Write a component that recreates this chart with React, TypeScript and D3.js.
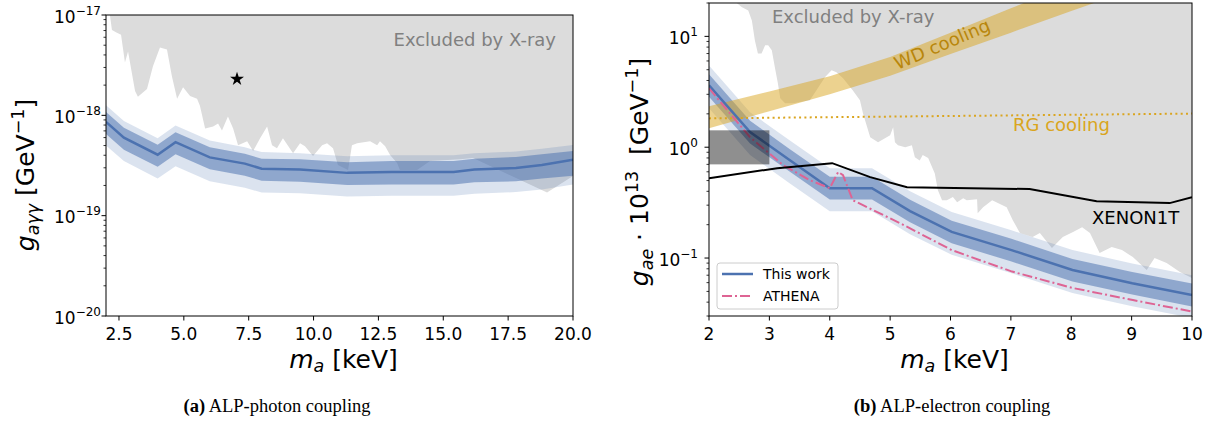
import React from "react";
import * as d3 from "d3";

// ---------------- Panel (a): ALP-photon coupling ----------------
const massA = [2, 2.69, 3.99, 4.68, 6.0, 7.35, 8.0, 9.48, 11.3, 13.0, 15.4, 16.2, 17.8, 18.8, 20];
const gLineA = [8.61e-19, 6.0e-19, 4.05e-19, 5.4e-19, 3.81e-19, 3.3e-19, 2.94e-19, 2.88e-19, 2.67e-19, 2.73e-19, 2.73e-19, 2.88e-19, 2.99e-19, 3.2e-19, 3.6e-19];
const g1HiA = [1.08e-18, 7.5e-19, 5.1e-19, 6.8e-19, 4.8e-19, 4.15e-19, 3.7e-19, 3.65e-19, 3.4e-19, 3.5e-19, 3.5e-19, 3.7e-19, 3.85e-19, 4.1e-19, 4.4e-19];
const g1LoA = [6.5e-19, 4.55e-19, 3.08e-19, 4.1e-19, 2.9e-19, 2.5e-19, 2.23e-19, 2.18e-19, 2.02e-19, 2.05e-19, 2.05e-19, 2.15e-19, 2.2e-19, 2.35e-19, 2.5e-19];
const g2HiA = [1.26e-18, 8.8e-19, 5.9e-19, 7.9e-19, 5.6e-19, 4.8e-19, 4.3e-19, 4.2e-19, 3.9e-19, 4.0e-19, 4.0e-19, 4.2e-19, 4.35e-19, 4.65e-19, 5.05e-19];
const g2LoA = [5.0e-19, 3.5e-19, 2.35e-19, 3.1e-19, 2.2e-19, 1.9e-19, 1.7e-19, 1.67e-19, 1.55e-19, 1.58e-19, 1.58e-19, 1.65e-19, 1.72e-19, 1.82e-19, 2.05e-19];

const xrayMassA = [2.15, 2.23, 2.35, 2.42, 2.58, 2.73, 2.85, 3.12, 3.23, 3.58, 3.81, 4.08, 4.35, 4.54, 4.74, 4.97, 5.24, 5.51, 5.62, 5.82, 6.13, 6.32, 6.47, 6.70, 6.90, 7.09, 7.44, 7.67, 7.94, 8.21, 8.40, 8.59, 8.82, 9.21, 9.48, 9.67, 9.98, 10.33, 10.52, 10.75, 10.94, 11.33, 11.48, 11.68, 12.18, 12.45, 12.56, 12.76, 12.95, 13.22, 13.33, 13.99, 14.49, 15.65, 16.15, 19.0, 20.0];
const xrayGA = [1.0e-17, 7.1e-18, 6.8e-18, 6.65e-18, 6.35e-18, 3.37e-18, 4.33e-18, 1.75e-18, 1.53e-18, 1.83e-18, 3.08e-18, 4.74e-18, 4.53e-18, 2.45e-18, 1.46e-18, 1.91e-18, 1.56e-18, 1.46e-18, 1.245e-18, 7.4e-19, 7.74e-19, 8.28e-19, 7.08e-19, 9.71e-19, 7.4e-19, 5.04e-19, 5.51e-19, 4.4e-19, 5.9e-19, 7.74e-19, 5.04e-19, 4.71e-19, 5.9e-19, 4.2e-19, 5.27e-19, 4.92e-19, 3.93e-19, 5.04e-19, 5.27e-19, 4.71e-19, 3.2e-19, 2.86e-19, 5.04e-19, 5.27e-19, 5.51e-19, 5.04e-19, 5.51e-19, 4.92e-19, 4.02e-19, 3.35e-19, 2.86e-19, 2.86e-19, 3.51e-19, 3.66e-19, 3.75e-19, 1.7e-19, 2.49e-19];

const starMassA = [7.05];
const starGA = [2.3e-18];
const xTicksA = [2.5, 5, 7.5, 10, 12.5, 15, 17.5, 20];
const xTickLabelsA = ["2.5", "5.0", "7.5", "10.0", "12.5", "15.0", "17.5", "20.0"];

// ---------------- Panel (b): ALP-electron coupling ----------------
const massB = [2, 2.68, 3.34, 4.0, 4.7, 5.33, 6.02, 7.01, 8.02, 9.01, 10];
const gLineB = [3.62, 1.37, 0.764, 0.427, 0.427, 0.265, 0.172, 0.118, 0.078, 0.0593, 0.0464];
const g1HiB = [4.55, 1.73, 0.96, 0.54, 0.54, 0.335, 0.217, 0.149, 0.098, 0.075, 0.059];
const g1LoB = [2.85, 1.08, 0.6, 0.337, 0.337, 0.21, 0.136, 0.093, 0.0615, 0.0468, 0.0365];
const g2HiB = [5.45, 2.07, 1.15, 0.645, 0.645, 0.4, 0.26, 0.178, 0.118, 0.0895, 0.07];
const g2LoB = [2.25, 0.85, 0.47, 0.265, 0.265, 0.164, 0.107, 0.073, 0.0485, 0.0368, 0.0288];

const athenaMass = [2.0, 2.68, 3.23, 3.67, 4.0, 4.14, 4.22, 4.38, 4.55, 5.16, 6.02, 7.02, 8.01, 9.02, 10.0];
const athenaG = [3.4, 1.23, 0.689, 0.504, 0.427, 0.599, 0.559, 0.333, 0.3, 0.207, 0.118, 0.0755, 0.0539, 0.0418, 0.0329];

const xenonMass = [2, 3.13, 4.04, 4.67, 5.28, 7.31, 8.42, 9.63, 10];
const xenonG = [0.525, 0.647, 0.718, 0.537, 0.436, 0.419, 0.326, 0.313, 0.354];

const wdMass = [2, 3, 4, 5, 6, 7, 8, 8.5];
const wdLo = [1.48, 2.11, 3.0, 4.42, 6.92, 10.8, 16.9, 21.1];
const wdHi = [2.34, 3.18, 4.37, 6.52, 10.8, 17.9, 30, 38];

const rgMass = [2, 10];
const rgG = [1.82, 2.01];

const hbMass = [2, 3];
const hbG = [0.7, 1.42];

const xrayMassB = [2.46, 2.54, 2.65, 2.71, 2.76, 2.81, 2.87, 2.93, 2.98, 3.04, 3.09, 3.14, 3.18, 3.26, 3.39, 3.67, 3.78, 3.92, 4.03, 4.11, 4.22, 4.38, 4.5, 4.55, 4.62, 4.67, 4.8, 5.0, 5.05, 5.08, 5.13, 5.25, 5.36, 5.41, 5.49, 5.54, 5.63, 5.74, 5.79, 5.86, 5.94, 6.04, 6.11, 6.21, 6.27, 6.44, 6.45, 6.54, 6.69, 6.93, 7.03, 7.15, 7.36, 7.48, 7.68, 7.86, 8.03, 8.18, 8.31, 8.47, 8.67, 8.84, 9.02, 9.25, 9.38, 9.58, 9.8, 10.0];
const xrayGB = [20, 18.4, 17.1, 13.9, 9.2, 7.0, 7.0, 8.3, 8.3, 7.5, 5.3, 3.8, 2.76, 2.49, 2.49, 2.65, 3.26, 4.27, 4.94, 4.74, 4.19, 3.26, 2.65, 2.02, 1.51, 1.23, 1.11, 1.28, 1.51, 1.11, 1.04, 1.0, 1.04, 0.81, 0.76, 0.85, 0.8, 0.58, 0.41, 0.333, 0.333, 0.355, 0.319, 0.347, 0.333, 0.34, 0.254, 0.288, 0.333, 0.288, 0.22, 0.168, 0.155, 0.168, 0.123, 0.155, 0.172, 0.19, 0.168, 0.111, 0.126, 0.118, 0.102, 0.078, 0.1, 0.09, 0.075, 0.066];

const xTicksB = [2, 3, 4, 5, 6, 7, 8, 9, 10];

const legendLabels = ["This work", "ATHENA"];

// ---------------- styles ----------------
const BLUE = "#4c72b0";
const PINK = "#de6494";
const GRAY = "#dcdcdc";
const GOLD = "#daa520";
const DGOLD = "#b8860b";
const FONT = "DejaVu Sans, sans-serif";
const DASHDOT = "10 3 2 3";

type P = [number, number];
const zip = (a: number[], b: number[]): P[] => a.map((v, i) => [v, b[i]] as P);

function isMajor(t: number) {
  const l = Math.log10(t);
  return Math.abs(l - Math.round(l)) < 1e-6;
}
function expStr(t: number) {
  const e = Math.round(Math.log10(t));
  return (e < 0 ? "\u2212" : "") + Math.abs(e);
}

export default function App() {
  const xA = d3.scaleLinear().domain([2, 20]).range([106, 573]);
  const yA = d3.scaleLog().domain([1e-20, 1e-17]).range([316, 15]);
  const xB = d3.scaleLinear().domain([2, 10]).range([709, 1192]);
  const yB = d3.scaleLog().domain([0.03, 20]).range([316, 3]);

  const lineA = d3.line<P>().x((d) => xA(d[0])).y((d) => yA(d[1]));
  const lineB = d3.line<P>().x((d) => xB(d[0])).y((d) => yB(d[1]));
  const bandA = (lo: number[], hi: number[]) =>
    d3.area<number>().x((m) => xA(m)).y0((_, i) => yA(lo[i])).y1((_, i) => yA(hi[i]))(massA) || "";
  const bandB = (xs: number[], lo: number[], hi: number[]) =>
    d3.area<number>().x((m) => xB(m)).y0((_, i) => yB(lo[i])).y1((_, i) => yB(hi[i]))(xs) || "";

  const xrayPathA = lineA([...zip(xrayMassA, xrayGA), [20, 1e-17]]) + "Z";
  const xrayPathB = lineB([[2.46, 25], ...zip(xrayMassB, xrayGB), [10, 25]]) + "Z";

  const yTicksA = yA.ticks();
  const yTicksB = yB.ticks().filter((t) => t >= 0.03 - 1e-9 && t <= 20 + 1e-9);

  const starPath = d3.symbol().type(d3.symbolStar).size(60)() || "";

  const pA = { l: 106, r: 573, t: 15, b: 316 };
  const pB = { l: 709, r: 1192, t: 3, b: 316 };

  const LF = 25; // axis label font size
  const SF = 17.5; // sub/superscript size in labels

  return (
    <div style={{ position: "absolute", left: 0, top: 0 }}>
      <svg width={1224} height={428} style={{ display: "block", background: "#fff" }} fontFamily={FONT}>
        <defs>
          <clipPath id="clipA">
            <rect x={pA.l} y={pA.t} width={pA.r - pA.l} height={pA.b - pA.t} />
          </clipPath>
          <clipPath id="clipB">
            <rect x={pB.l} y={pB.t} width={pB.r - pB.l} height={pB.b - pB.t} />
          </clipPath>
        </defs>

        {/* ---------- Panel A ---------- */}
        <g clipPath="url(#clipA)">
          <path d={xrayPathA} fill={GRAY} />
          <path d={bandA(g2LoA, g2HiA)} fill={BLUE} fillOpacity={0.2} />
          <path d={bandA(g1LoA, g1HiA)} fill={BLUE} fillOpacity={0.53} />
          <path d={lineA(zip(massA, gLineA)) || ""} fill="none" stroke={BLUE} strokeWidth={2.5} />
          {starMassA.map((m, i) => (
            <path key={i} d={starPath} transform={`translate(${xA(m)},${yA(starGA[i])})`} fill="#000" />
          ))}
        </g>
        <text x={556} y={46} textAnchor="end" fontSize={18} fill="#808080">Excluded by X-ray</text>
        <rect x={pA.l} y={pA.t} width={pA.r - pA.l} height={pA.b - pA.t} fill="none" stroke="#000" strokeWidth={1} />
        {yTicksA.map((t, i) => {
          const maj = isMajor(t);
          const y = yA(t);
          return (
            <g key={i}>
              <line x1={pA.l} x2={pA.l - (maj ? 4.5 : 2.5)} y1={y} y2={y} stroke="#000" strokeWidth={maj ? 1 : 0.8} />
              {maj && (
                <text x={101} y={y + 7.5} textAnchor="end" fontSize={17}>
                  10<tspan dy={-8} fontSize={12}>{expStr(t)}</tspan>
                </text>
              )}
            </g>
          );
        })}
        {xTicksA.map((t, i) => (
          <g key={i}>
            <line x1={xA(t)} x2={xA(t)} y1={pA.b} y2={pA.b + 4.5} stroke="#000" />
            <text x={xA(t)} y={340} textAnchor="middle" fontSize={17}>{xTickLabelsA[i]}</text>
          </g>
        ))}
        <text x={(pA.l + pA.r) / 2 + 4} y={368} textAnchor="middle" fontSize={LF}>
          <tspan fontStyle="italic">m</tspan>
          <tspan fontStyle="italic" fontSize={SF} dy={4}>a</tspan>
          <tspan dy={-4}> [keV]</tspan>
        </text>
        <text transform={`translate(34,175) rotate(-90)`} textAnchor="middle" fontSize={LF}>
          <tspan fontStyle="italic">g</tspan>
          <tspan fontStyle="italic" fontSize={SF} dy={5}>{"a\u03b3\u03b3"}</tspan>
          <tspan dy={-5}> [GeV</tspan>
          <tspan fontSize={SF} dy={-10}>{"\u22121"}</tspan>
          <tspan dy={10}>]</tspan>
        </text>

        {/* ---------- Panel B ---------- */}
        <g clipPath="url(#clipB)">
          <path d={xrayPathB} fill={GRAY} />
          <path d={bandB(massB, g2LoB, g2HiB)} fill={BLUE} fillOpacity={0.2} />
          <path d={bandB(massB, g1LoB, g1HiB)} fill={BLUE} fillOpacity={0.53} />
          <path d={bandB(wdMass, wdLo, wdHi)} fill={GOLD} fillOpacity={0.5} />
          <path d={lineB(zip(rgMass, rgG)) || ""} fill="none" stroke={GOLD} strokeWidth={2} strokeDasharray="2 3.3" />
          <path d={lineB(zip(massB, gLineB)) || ""} fill="none" stroke={BLUE} strokeWidth={2.5} />
          <path d={lineB(zip(athenaMass, athenaG)) || ""} fill="none" stroke={PINK} strokeWidth={2} strokeDasharray={DASHDOT} />
          <path d={lineB(zip(xenonMass, xenonG)) || ""} fill="none" stroke="#000" strokeWidth={2} />
          <rect
            x={xB(hbMass[0])}
            y={yB(hbG[1])}
            width={xB(hbMass[1]) - xB(hbMass[0])}
            height={yB(hbG[0]) - yB(hbG[1])}
            fill="#000"
            fillOpacity={0.44}
          />
        </g>
        <text x={772} y={23} fontSize={18} fill="#808080">Excluded by X-ray</text>
        <text x={942} y={44} fontSize={18} fill={DGOLD} textAnchor="middle" dominantBaseline="central" transform="rotate(-23 942 44)">WD cooling</text>
        <text x={1013} y={131} fontSize={18} fill={GOLD}>RG cooling</text>
        <text x={1092} y={224} fontSize={18} fill="#000">XENON1T</text>

        {/* legend */}
        <rect x={717} y={263} width={121} height={46} rx={3} fill="#fff" fillOpacity={0.8} stroke="#cccccc" strokeWidth={1} />
        <line x1={722} x2={753} y1={274} y2={274} stroke={BLUE} strokeWidth={2.5} />
        <line x1={722} x2={753} y1={296} y2={296} stroke={PINK} strokeWidth={2} strokeDasharray={DASHDOT} />
        <text x={763} y={279} fontSize={14}>{legendLabels[0]}</text>
        <text x={763} y={301} fontSize={14}>{legendLabels[1]}</text>

        <rect x={pB.l} y={pB.t} width={pB.r - pB.l} height={pB.b - pB.t} fill="none" stroke="#000" strokeWidth={1} />
        {yTicksB.map((t, i) => {
          const maj = isMajor(t);
          const y = yB(t);
          return (
            <g key={i}>
              <line x1={pB.l} x2={pB.l - (maj ? 4.5 : 2.5)} y1={y} y2={y} stroke="#000" strokeWidth={maj ? 1 : 0.8} />
              {maj && (
                <text x={698} y={y + 7.5} textAnchor="end" fontSize={17}>
                  10<tspan dy={-8} fontSize={12}>{expStr(t)}</tspan>
                </text>
              )}
            </g>
          );
        })}
        {xTicksB.map((t, i) => (
          <g key={i}>
            <line x1={xB(t)} x2={xB(t)} y1={pB.b} y2={pB.b + 4.5} stroke="#000" />
            <text x={xB(t)} y={340} textAnchor="middle" fontSize={17}>{String(t)}</text>
          </g>
        ))}
        <text x={(pB.l + pB.r) / 2 + 4} y={368} textAnchor="middle" fontSize={LF}>
          <tspan fontStyle="italic">m</tspan>
          <tspan fontStyle="italic" fontSize={SF} dy={4}>a</tspan>
          <tspan dy={-4}> [keV]</tspan>
        </text>
        <text transform={`translate(648,172) rotate(-90)`} textAnchor="middle" fontSize={LF} xmlSpace="preserve">
          <tspan fontStyle="italic">g</tspan>
          <tspan fontStyle="italic" fontSize={SF} dy={5}>ae</tspan>
          <tspan dy={-5}>{" \u00b7 10"}</tspan>
          <tspan fontSize={SF} dy={-10}>13</tspan>
          <tspan dy={10}>{"  [GeV"}</tspan>
          <tspan fontSize={SF} dy={-10}>{"\u22121"}</tspan>
          <tspan dy={10}>]</tspan>
        </text>

        {/* captions */}
        <text x={277} y={412} textAnchor="middle" fontSize={18.5} fontFamily="Liberation Serif, serif">
          <tspan fontWeight="bold">(a)</tspan> ALP-photon coupling
        </text>
        <text x={952} y={412} textAnchor="middle" fontSize={18.5} fontFamily="Liberation Serif, serif">
          <tspan fontWeight="bold">(b)</tspan> ALP-electron coupling
        </text>
      </svg>
    </div>
  );
}
